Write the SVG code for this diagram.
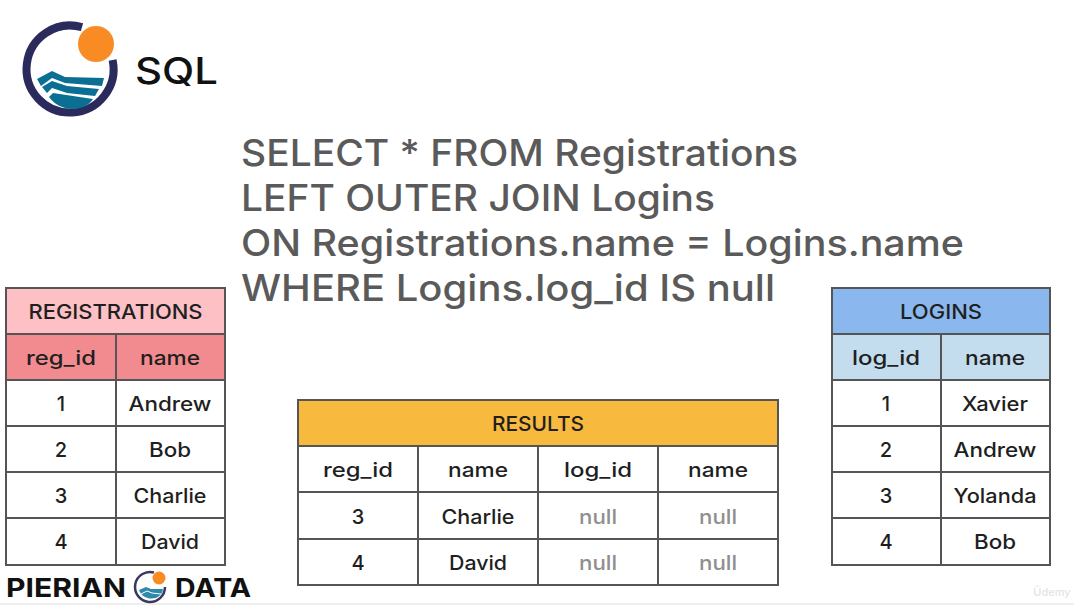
<svg xmlns="http://www.w3.org/2000/svg" width="1074" height="605" viewBox="0 0 1074 605">
<style>
text{font-family:"Inter","Liberation Sans",sans-serif;fill:#1f1f1f;text-anchor:middle;font-size:20px;font-weight:500}
.q{font-size:36.500px;text-anchor:start;fill:#5a5a5a;font-weight:500}
.g{stroke:#555;stroke-width:2;fill:none}
.n{fill:#8f8f8f}
.b{font-weight:700;fill:#111;text-anchor:start;font-size:26px}
.w{fill:#0b6f94}
</style>
<rect width="1074" height="605" fill="#fff"/>
<rect y="603" width="1074" height="2" fill="#eee"/>
<g id="logo">
<path d="M82 27.200A43.500 43.500 0 1 0 112.600 60" fill="none" stroke="#2b2a5c" stroke-width="8"/>
<circle cx="96" cy="44" r="18" fill="#f98b25"/>
<path class="w" d="M37 79L52 71L65 77L104 78L102 86L65 83L52 78L41 86Z"/>
<path class="w" d="M42 87L52 81L67 86L99 89L95 96L67 93L52 88L47 93Z"/>
<path class="w" d="M49 97L53 93L93 99C85 112 60 113 49 97Z"/>
<text x="135" y="84" style="font-size:37px;text-anchor:start;fill:#111;font-weight:500" textLength="83" lengthAdjust="spacingAndGlyphs">SQL</text>
</g>
<g id="query">
<text class="q" x="241" y="166" textLength="557" lengthAdjust="spacingAndGlyphs">SELECT * FROM Registrations</text>
<text class="q" x="241" y="211" textLength="474" lengthAdjust="spacingAndGlyphs">LEFT OUTER JOIN Logins</text>
<text class="q" x="241" y="256" textLength="723" lengthAdjust="spacingAndGlyphs">ON Registrations.name = Logins.name</text>
<text class="q" x="241" y="301" textLength="534" lengthAdjust="spacingAndGlyphs">WHERE Logins.log_id IS null</text>
</g>
<g id="registrations">
<rect x="6" y="288" width="219" height="46" fill="#fcc0c5"/>
<rect x="6" y="334" width="219" height="46" fill="#f28b90"/>
<path class="g" d="M6 288H225V565H6ZM6 334H225M6 380H225M6 426H225M6 472H225M6 518H225M116 334V565"/>
<text x="115.500" y="318.500" textLength="174" lengthAdjust="spacingAndGlyphs">REGISTRATIONS</text>
<text x="61" y="365" textLength="70" lengthAdjust="spacingAndGlyphs">reg_id</text><text x="170" y="365" textLength="60" lengthAdjust="spacingAndGlyphs">name</text>
<text x="61" y="411">1</text><text x="170" y="411" textLength="83" lengthAdjust="spacingAndGlyphs">Andrew</text>
<text x="61" y="457">2</text><text x="170" y="457" textLength="42" lengthAdjust="spacingAndGlyphs">Bob</text>
<text x="61" y="503">3</text><text x="170" y="503" textLength="73" lengthAdjust="spacingAndGlyphs">Charlie</text>
<text x="61" y="549">4</text><text x="170" y="549" textLength="58" lengthAdjust="spacingAndGlyphs">David</text>
</g>
<g id="logins">
<rect x="832" y="288" width="218" height="46" fill="#8ab8ee"/>
<rect x="832" y="334" width="218" height="46" fill="#c3dcee"/>
<path class="g" d="M832 288H1050V565H832ZM832 334H1050M832 380H1050M832 426H1050M832 472H1050M832 518H1050M941 334V565"/>
<text x="941" y="318.500" textLength="82" lengthAdjust="spacingAndGlyphs">LOGINS</text>
<text x="886" y="365" textLength="68" lengthAdjust="spacingAndGlyphs">log_id</text><text x="995" y="365" textLength="60" lengthAdjust="spacingAndGlyphs">name</text>
<text x="886" y="411">1</text><text x="995" y="411" textLength="66" lengthAdjust="spacingAndGlyphs">Xavier</text>
<text x="886" y="457">2</text><text x="995" y="457" textLength="83" lengthAdjust="spacingAndGlyphs">Andrew</text>
<text x="886" y="503">3</text><text x="995" y="503" textLength="83" lengthAdjust="spacingAndGlyphs">Yolanda</text>
<text x="886" y="549">4</text><text x="995" y="549" textLength="42" lengthAdjust="spacingAndGlyphs">Bob</text>
</g>
<g id="results">
<rect x="298" y="400" width="480" height="46" fill="#f7b93e"/>
<path class="g" d="M298 400H778V585H298ZM298 446H778M298 492H778M298 539H778M418 446V585M538 446V585M658 446V585"/>
<text x="538" y="431" textLength="92" lengthAdjust="spacingAndGlyphs">RESULTS</text>
<text x="358" y="477" textLength="70" lengthAdjust="spacingAndGlyphs">reg_id</text><text x="478" y="477" textLength="60" lengthAdjust="spacingAndGlyphs">name</text><text x="598" y="477" textLength="68" lengthAdjust="spacingAndGlyphs">log_id</text><text x="718" y="477" textLength="60" lengthAdjust="spacingAndGlyphs">name</text>
<text x="358" y="524">3</text><text x="478" y="524" textLength="73" lengthAdjust="spacingAndGlyphs">Charlie</text><text class="n" x="598" y="524" textLength="38" lengthAdjust="spacingAndGlyphs">null</text><text class="n" x="718" y="524" textLength="38" lengthAdjust="spacingAndGlyphs">null</text>
<text x="358" y="570">4</text><text x="478" y="570" textLength="58" lengthAdjust="spacingAndGlyphs">David</text><text class="n" x="598" y="570" textLength="38" lengthAdjust="spacingAndGlyphs">null</text><text class="n" x="718" y="570" textLength="38" lengthAdjust="spacingAndGlyphs">null</text>
</g>
<g id="brand">
<text class="b" x="6" y="597" textLength="120" lengthAdjust="spacingAndGlyphs">PIERIAN</text>
<path d="M154 572.500A15 15 0 1 0 165 587" fill="none" stroke="#3a3763" stroke-width="2.500"/>
<circle cx="159" cy="578" r="6.500" fill="#f98b25"/>
<path d="M139 590L146 587L151 589H163C162 601 143 602 139 590Z" fill="#2f89ab"/>
<path d="M141 594L147 591L152 593L161 594" fill="none" stroke="#fff" stroke-width="1"/>
<text class="b" x="175" y="597" textLength="76" lengthAdjust="spacingAndGlyphs">DATA</text>
</g>
<text x="1052" y="596" style="font-size:11px;fill:#e4e4e4">Ûdemy</text>
</svg>
